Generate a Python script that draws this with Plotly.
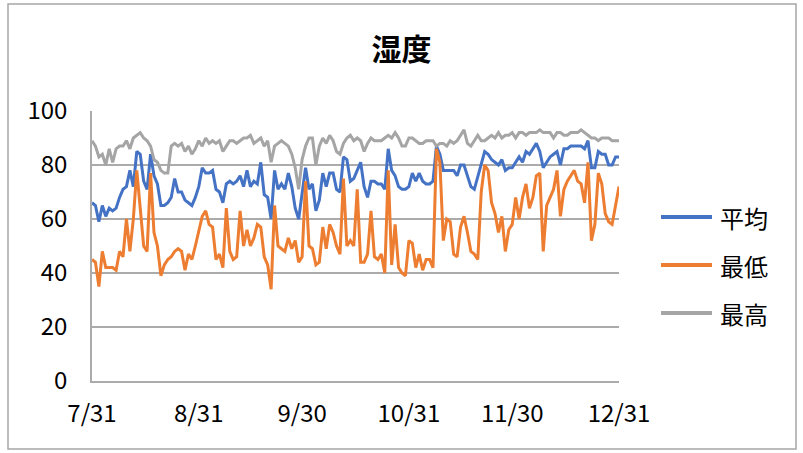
import pandas as pd
import plotly.graph_objects as go

dates = pd.date_range("2020-07-31", "2020-12-31", freq="D")

avg = [66,65,59,65,61,64,63,64,68,71,
       72,78,72,85,84,74,71,84,76,73,
       65,65,66,68,75,70,70,67,66,65,
       68,72,79,77,77,78,71,70,66,73,
       74,73,74,76,72,78,72,74,73,81,
       69,68,60,78,71,73,71,77,72,64,
       60,70,79,71,73,63,67,77,72,77,
       77,71,70,83,82,74,75,78,81,72,
       68,74,74,73,73,71,86,78,76,72,
       71,71,72,77,74,77,74,73,73,74,
       87,84,78,78,78,78,76,80,80,76,
       72,71,76,80,85,84,82,81,80,82,
       78,79,79,81,83,81,85,84,86,88,
       85,79,81,83,84,85,80,86,86,87,
       87,87,87,86,89,79,79,85,84,84,
       80,80,83,83]

low = [45,44,35,48,42,42,42,41,48,46,
       60,48,60,78,65,50,48,77,55,50,
       39,43,45,46,48,49,48,41,47,45,
       50,55,61,63,58,57,45,47,42,64,
       48,45,46,63,50,56,50,53,58,57,
       46,43,34,65,50,49,48,53,49,52,
       44,46,74,50,49,43,44,57,49,58,
       55,50,47,75,50,52,50,71,44,44,
       47,63,46,45,47,40,78,43,58,42,
       40,39,52,51,42,47,41,45,45,42,
       86,81,52,60,59,47,46,57,61,55,
       48,47,45,70,80,78,66,62,55,61,
       48,56,58,68,60,68,73,64,68,76,
       77,48,65,68,71,78,61,71,74,76,
       78,74,73,66,81,52,58,77,73,62,
       59,58,65,72]

high = [89,87,83,84,80,86,81,86,87,87,
        89,86,90,91,92,90,89,87,82,81,
        78,77,77,87,88,87,88,85,87,84,
        86,89,87,90,88,89,88,89,85,87,
        89,89,88,89,90,90,91,88,89,90,
        87,89,81,87,88,89,88,87,84,79,
        71,82,87,90,90,80,87,90,88,91,
        89,85,84,88,90,91,89,90,89,85,
        88,90,89,89,89,90,91,90,92,90,
        87,87,90,90,89,88,88,89,89,89,
        87,88,88,87,89,88,89,91,93,88,
        87,89,91,89,89,90,91,90,92,90,
        91,91,92,90,92,92,91,92,92,92,
        93,92,92,92,90,92,92,91,91,92,
        92,92,93,92,91,90,90,89,90,90,
        90,89,89,89]

series_names = ["平均", "最低", "最高"]
series_values = [avg, low, high]
series_colors = ["#4472C4", "#ED7D31", "#A5A5A5"]

tick_dates = ["2020-07-31", "2020-08-31", "2020-09-30", "2020-10-31", "2020-11-30", "2020-12-31"]
tick_labels = ["7/31", "8/31", "9/30", "10/31", "11/30", "12/31"]
y_ticks = [0, 20, 40, 60, 80, 100]

FONT = "Noto Sans CJK JP"
GRID = "#ABABAB"

fig = go.Figure()
for name, vals, col in zip(series_names, series_values, series_colors):
    fig.add_trace(go.Scatter(x=dates, y=vals, mode="lines", name=name,
                             line=dict(color=col, width=3), showlegend=False))

# plot area in px: x 92..619, y 111..381
W, H = 803, 453
L, R, T, B = 92, 619, 111, 381
pw, ph = R - L, B - T

def px_x(p):
    return (p - L) / pw

def px_y(p):
    return (B - p) / ph

shapes = [dict(type="rect", xref="paper", yref="paper",
               x0=px_x(8), x1=px_x(796), y0=px_y(449), y1=px_y(4),
               line=dict(color="#A6A6A6", width=1.5), layer="below")]
annotations = []
leg_y = [217, 265, 313]
for name, col, yy in zip(series_names, series_colors, leg_y):
    shapes.append(dict(type="line", xref="paper", yref="paper",
                       x0=px_x(661), x1=px_x(712), y0=px_y(yy), y1=px_y(yy),
                       line=dict(color=col, width=4)))
    annotations.append(dict(xref="paper", yref="paper", x=px_x(718), y=px_y(yy),
                            text=name, showarrow=False, xanchor="left", yanchor="middle",
                            font=dict(family=FONT, size=24, color="#000000")))

fig.update_layout(
    width=W, height=H,
    margin=dict(l=L, r=W - R, t=T, b=H - B, pad=0),
    paper_bgcolor="white", plot_bgcolor="white",
    title=dict(text="<b>湿度</b>", x=0.5, xref="container", xanchor="center",
               y=1 - 49 / H, yref="container", yanchor="middle",
               font=dict(family=FONT, size=30, color="#000000")),
    font=dict(family=FONT, size=24, color="#000000"),
    shapes=shapes, annotations=annotations,
    showlegend=False,
)
fig.update_xaxes(type="date", range=[dates[0], dates[-1]],
                 tickmode="array", tickvals=tick_dates, ticktext=tick_labels,
                 showgrid=False, showline=True, linecolor=GRID, linewidth=1.5,
                 ticks="", ticklabelstandoff=10, zeroline=False,
                 tickfont=dict(family=FONT, size=24, color="#000000"))
fig.update_yaxes(range=[0, 100], tickvals=y_ticks,
                 showgrid=True, gridcolor=GRID, gridwidth=1.5,
                 showline=True, linecolor=GRID, linewidth=1.5,
                 ticks="", ticklabelstandoff=18, zeroline=False,
                 tickfont=dict(family=FONT, size=24, color="#000000"))

fig.write_html("out.html",
               config={"displayModeBar": False},
               post_script="document.body.style.margin='0';document.body.style.overflow='hidden';")
